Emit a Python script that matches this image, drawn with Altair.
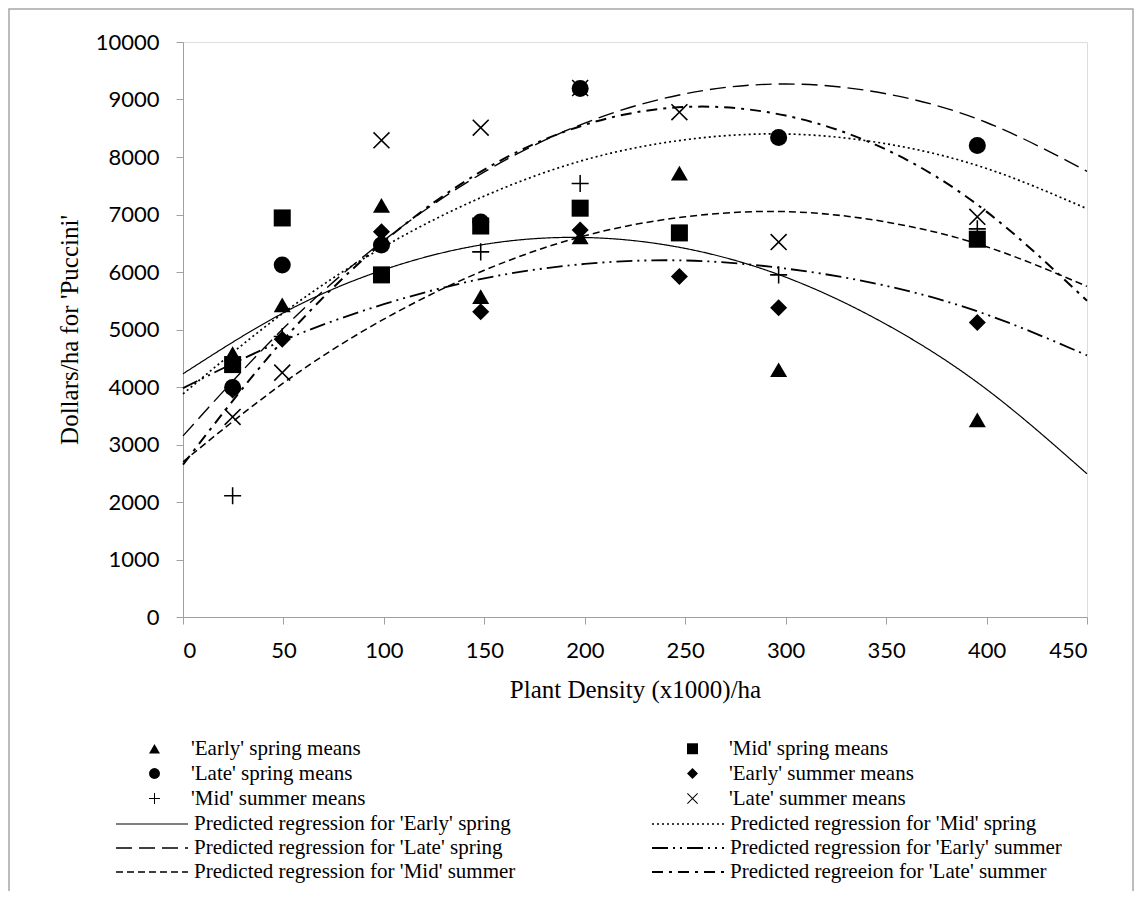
import altair as alt
import pandas as pd

# ---------------- data ----------------
density = [24.7, 49.4, 98.8, 148.2, 197.7, 247.1, 296.5, 395.4]

early_spring = [4580, 5430, 7160, 5570, 6610, 7720, 4300, 3430]
mid_spring = [4390, 6940, 5950, 6800, 7110, 6680, None, 6570]
late_spring = [3990, 6120, 6470, 6870, 9190, None, 8340, 8200]
early_summer = [3950, 4830, 6700, 5310, 6730, 5920, 5380, 5120]
mid_summer = [2110, 4880, None, 6350, 7540, None, 5950, 6750]
late_summer = [3480, 4250, 8290, 8510, 9200, 8780, 6520, 6960]

point_labels = [
    "'Early' spring means", "'Mid' spring means",
    "'Late' spring means", "'Early' summer means",
    "'Mid' summer means", "'Late' summer means",
]
point_series = [early_spring, mid_spring, late_spring,
                early_summer, mid_summer, late_summer]

# predicted regression curves, read at every 50 units of density
curve_x = [0, 50, 100, 150, 200, 250, 300, 350, 400, 450]
pred_early_spring = [4230, 5290, 6040, 6480, 6600, 6410, 5910, 5090, 3960, 2490]
pred_mid_spring = [3880, 5290, 6440, 7320, 7950, 8300, 8400, 8230, 7800, 7100]
pred_late_spring = [3150, 5020, 6550, 7740, 8590, 9100, 9270, 9100, 8600, 7750]
pred_early_summer = [3980, 4810, 5440, 5890, 6140, 6200, 6060, 5760, 5260, 4550]
pred_mid_summer = [2700, 4070, 5180, 6030, 6630, 6960, 7050, 6870, 6440, 5750]
pred_late_summer = [2650, 4820, 6530, 7780, 8560, 8870, 8720, 8130, 7050, 5500]

curve_labels = [
    "Predicted regression for 'Early' spring",
    "Predicted regression for 'Mid' spring",
    "Predicted regression for 'Late' spring",
    "Predicted regression for 'Early' summer",
    "Predicted regression for 'Mid' summer",
    "Predicted regreeion for 'Late' summer",
]
curve_series = [pred_early_spring, pred_mid_spring, pred_late_spring,
                pred_early_summer, pred_mid_summer, pred_late_summer]

# ---------------- styles ----------------
PLUS = ("M-0.09,-1H0.09V-0.09H1V0.09H0.09V1H-0.09V0.09H-1V-0.09H-0.09Z")
XMARK = ("M-0.87,-1L0,-0.13L0.87,-1L1,-0.87L0.13,0L1,0.87L0.87,1L0,0.13"
         "L-0.87,1L-1,0.87L-0.13,0L-1,-0.87Z")
point_shapes = ["triangle-up", "square", "circle", "diamond", PLUS, XMARK]
curve_dashes = [[1, 0], [2, 3], [16, 7], [16, 5, 2, 5, 2, 5], [7, 4], [11, 6, 3, 6]]
curve_widths = [1.2, 2, 2, 2, 2, 2]
LEGEND_LINE = "M-3.6,0H3.6"

# legends fill column by column: reorder so they read row by row
legend_order = [0, 2, 4, 1, 3, 5]
pt_domain = [point_labels[i] for i in legend_order]
pt_range = [point_shapes[i] for i in legend_order]
cv_domain = [curve_labels[i] for i in legend_order]
cv_dash = [curve_dashes[i] for i in legend_order]
cv_width = [curve_widths[i] for i in legend_order]

# ---------------- tables ----------------
pts = pd.DataFrame(
    [{"density": d, "value": v, "series": lab}
     for lab, vals in zip(point_labels, point_series)
     for d, v in zip(density, vals) if v is not None]
)
crv = pd.DataFrame(
    [{"density": d, "value": v, "curve": lab}
     for lab, vals in zip(curve_labels, curve_series)
     for d, v in zip(curve_x, vals)]
)

AXIS_GRAY = "#a0a0a0"
SERIF = "Liberation Serif"

x_enc = alt.X(
    "density:Q",
    scale=alt.Scale(domain=[0, 450], nice=False),
    axis=alt.Axis(
        values=list(range(0, 451, 50)), grid=False, format="d",
        domainColor=AXIS_GRAY, tickColor=AXIS_GRAY, tickSize=7,
        labelFont="Lato", labelFontSize=22, labelColor="black", labelPadding=16,
        title="Plant Density (x1000)/ha", titleFont=SERIF, titleFontSize=25,
        titleFontWeight="normal", titleColor="black", titlePadding=16,
    ),
)
y_enc = alt.Y(
    "value:Q",
    scale=alt.Scale(domain=[0, 10000], nice=False),
    axis=alt.Axis(
        values=list(range(0, 10001, 1000)), grid=False, format="d",
        domainColor=AXIS_GRAY, tickColor=AXIS_GRAY, tickSize=7,
        labelFont="Lato", labelFontSize=22, labelColor="black", labelPadding=17,
        title="Dollars/ha for 'Puccini'", titleFont=SERIF, titleFontSize=25,
        titleFontWeight="normal", titleColor="black", titlePadding=13,
    ),
)

lines = alt.Chart(crv).mark_line(color="black", interpolate="natural").encode(
    x=x_enc,
    y=y_enc,
    strokeDash=alt.StrokeDash(
        "curve:N",
        scale=alt.Scale(domain=cv_domain, range=cv_dash),
        legend=alt.Legend(
            title=None, orient="none", legendX=-42, legendY=771,
            columns=2, columnPadding=132, rowPadding=3, padding=0,
            symbolType=LEGEND_LINE, symbolSize=400, symbolStrokeColor="black",
            symbolStrokeWidth=1.6, labelFont=SERIF, labelFontSize=21,
            labelColor="black", labelOffset=31, labelLimit=1000,
        ),
    ),
    strokeWidth=alt.StrokeWidth(
        "curve:N",
        scale=alt.Scale(domain=cv_domain, range=cv_width),
        legend=None,
    ),
)

points = alt.Chart(pts).mark_point(
    filled=True, color="black", strokeWidth=0, opacity=1, size=290
).encode(
    x="density:Q",
    y="value:Q",
    shape=alt.Shape(
        "series:N",
        scale=alt.Scale(domain=pt_domain, range=pt_range),
        legend=alt.Legend(
            title=None, orient="none", legendX=-39, legendY=696,
            columns=2, columnPadding=316, rowPadding=3, padding=0,
            symbolSize=120, symbolFillColor="black", symbolStrokeWidth=0,
            labelFont=SERIF, labelFontSize=21,
            labelColor="black", labelOffset=26, labelLimit=1000,
        ),
    ),
)

frame = alt.Chart(pd.DataFrame({"f": [0]})).mark_rect(
    fill=None, stroke="#a6a6a6", strokeWidth=1.5
).encode(
    x=alt.value(-174), x2=alt.value(950), y=alt.value(-33), y2=alt.value(900)
)

chart = alt.layer(frame, lines, points).properties(
    width=904, height=575,
    padding={"left": 175, "top": 34, "right": 50, "bottom": 274},
    autosize=alt.AutoSizeParams(type="none"),
).configure_view(stroke=None).configure(background="white")

chart.save("out.html", embed_options={"renderer": "svg", "actions": False})
